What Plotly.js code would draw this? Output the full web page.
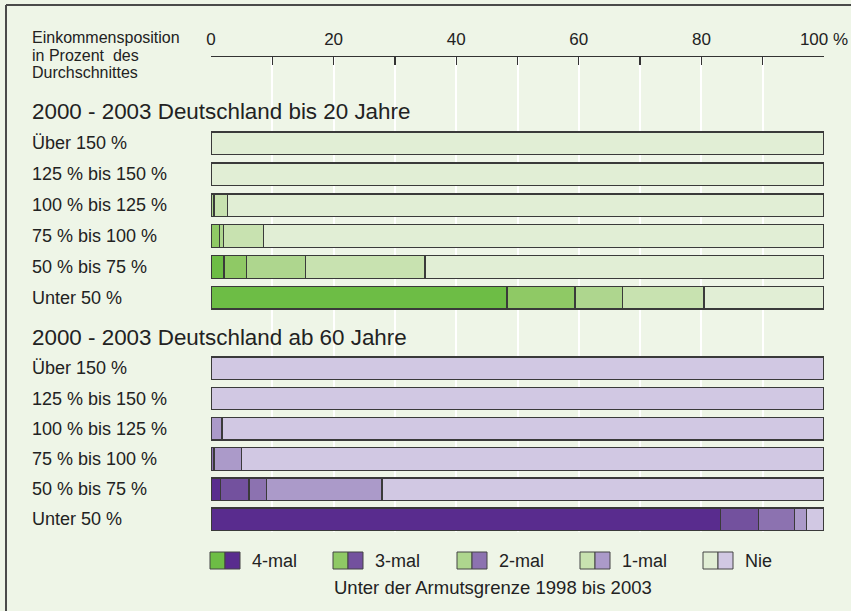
<!DOCTYPE html>
<html><head><meta charset="utf-8">
<script src="https://cdn.plot.ly/plotly-3.0.1.min.js"></script>
<style>html,body{margin:0;padding:0;background:#eef5e7;}#chart{width:851px;height:611px;}</style>
</head><body><div id="chart"></div>
<script>
// ---------- data ----------
const rowLabels = ["Über 150 %","125 % bis 150 %","100 % bis 125 %","75 % bis 100 %","50 % bis 75 %","Unter 50 %"];
const groupTitles = ["2000 - 2003 Deutschland bis 20 Jahre","2000 - 2003 Deutschland ab 60 Jahre"];
const categories = ["4-mal","3-mal","2-mal","1-mal","Nie"];
const headerLines = ["Einkommensposition","in Prozent  des","Durchschnittes"];
const footerText = "Unter der Armutsgrenze 1998 bis 2003";
// bis 20 Jahre (percent)
const young4   = [0, 0, 0,    0,    2.1,  48.3];
const young3   = [0, 0, 0,    1.4,  3.7,  11.1];
const young2   = [0, 0, 0.5,  0.6,  9.6,  7.7];
const young1   = [0, 0, 2.2,  6.6,  19.5, 13.3];
const youngNie = [100, 100, 97.3, 91.4, 65.1, 19.6];
// ab 60 Jahre (percent)
const old4   = [0, 0, 0,    0,    1.5,  83.1];
const old3   = [0, 0, 0,    0,    4.7,  6.2];
const old2   = [0, 0, 0,    0.5,  2.9,  5.9];
const old1   = [0, 0, 1.8,  4.5,  18.8, 2.0];
const oldNie = [100, 100, 98.2, 95.0, 72.1, 2.8];
const tickVals = [0, 20, 40, 60, 80, 100];
const tickText = ["0", "20", "40", "60", "80", "100 %"];
const minorTickVals = [10, 30, 50, 70, 90];

// ---------- styles / layout geometry ----------
const greens  = ["#6dbd45", "#8fc965", "#aed68e", "#c8e2b0", "#e1eed5"];
const purples = ["#592c8e", "#73519e", "#8c72b0", "#ab9ac9", "#d1c8e3"];
const BG = "#eef5e7";
const FONT = "Liberation Sans, Arial, Helvetica, sans-serif";
const L = 211, R = 824, T = 57, B = 532, W = 851, H = 611;
const px = v => (v - L) / (R - L);
const py = v => (B - v) / (B - T);
const rowY = [];
for (let i = 0; i < 6; i++) rowY.push(143.3 + i * 30.9);
for (let i = 0; i < 6; i++) rowY.push(368.3 + i * 30.2);
const titleY = [111, 337];

const youngSeries = [young4, young3, young2, young1, youngNie];
const oldSeries = [old4, old3, old2, old1, oldNie];

const traces = categories.map((c, k) => ({
  type: "bar", orientation: "h", name: c,
  x: youngSeries[k].concat(oldSeries[k]),
  y: rowY,
  width: 22.5,
  marker: {
    color: Array(6).fill(greens[k]).concat(Array(6).fill(purples[k])),
    line: {color: "#3a3a3a", width: 1.3}
  },
  showlegend: false, hoverinfo: "skip"
}));

const annotations = [];
headerLines.forEach((t, i) => annotations.push({
  text: t, xref: "paper", yref: "paper", x: px(30), y: py(38 + i * 17),
  xanchor: "left", yanchor: "middle", showarrow: false,
  font: {family: FONT, size: 16, color: "#222"}
}));
groupTitles.forEach((t, g) => annotations.push({
  text: t, xref: "paper", yref: "y", x: px(30), y: titleY[g],
  xanchor: "left", yanchor: "middle", showarrow: false,
  font: {family: FONT, size: 22.4, color: "#222"}
}));
rowY.forEach((y, i) => annotations.push({
  text: rowLabels[i % 6], xref: "paper", yref: "y", x: px(30), y: y,
  xanchor: "left", yanchor: "middle", showarrow: false,
  font: {family: FONT, size: 18, color: "#222"}
}));

const shapes = [];
const gx = [210, 333, 457, 580, 703];
categories.forEach((c, k) => {
  shapes.push({type: "rect", xref: "paper", yref: "paper",
    x0: px(gx[k]), x1: px(gx[k] + 15), y0: py(569), y1: py(552),
    fillcolor: greens[k], line: {color: "#444", width: 1}});
  shapes.push({type: "rect", xref: "paper", yref: "paper",
    x0: px(gx[k] + 15), x1: px(gx[k] + 30), y0: py(569), y1: py(552),
    fillcolor: purples[k], line: {color: "#444", width: 1}});
  annotations.push({text: c, xref: "paper", yref: "paper", x: px(gx[k] + 40), y: py(561),
    xanchor: "left", yanchor: "middle", showarrow: false,
    font: {family: FONT, size: 18, color: "#222"}});
});
annotations.push({text: footerText, xref: "paper", yref: "paper", x: px(493), y: py(587),
  xanchor: "center", yanchor: "middle", showarrow: false,
  font: {family: FONT, size: 18.5, color: "#222"}});
// frame (top and left edges)
shapes.push({type: "line", xref: "paper", yref: "paper", x0: px(6), x1: px(851), y0: py(5), y1: py(5), line: {color: "#4a4a4a", width: 2}});
shapes.push({type: "line", xref: "paper", yref: "paper", x0: px(6), x1: px(6), y0: py(5), y1: py(611), line: {color: "#4a4a4a", width: 2}});

const layout = {
  width: W, height: H,
  margin: {l: L, r: W - R, t: T, b: H - B, pad: 0},
  paper_bgcolor: BG, plot_bgcolor: BG,
  barmode: "stack", bargap: 0,
  font: {family: FONT, color: "#222"},
  xaxis: {
    range: [0, 100], side: "top", fixedrange: true,
    showline: true, linecolor: "#333", linewidth: 1.5,
    ticks: "inside", ticklen: 8, tickwidth: 1.3, tickcolor: "#333",
    tickvals: tickVals, ticktext: tickText, ticklabelstandoff: 4,
    tickfont: {family: FONT, size: 17, color: "#222"},
    showgrid: true, gridcolor: "#ffffff", gridwidth: 2, zeroline: false,
    minor: {tickvals: minorTickVals, ticks: "inside", ticklen: 8, tickwidth: 1.3, tickcolor: "#333",
            showgrid: true, gridcolor: "#ffffff", gridwidth: 2}
  },
  yaxis: {range: [B, T], visible: false, fixedrange: true},
  annotations: annotations,
  shapes: shapes
};
Plotly.newPlot("chart", traces, layout, {displayModeBar: false, staticPlot: true});
</script>
</body></html>
